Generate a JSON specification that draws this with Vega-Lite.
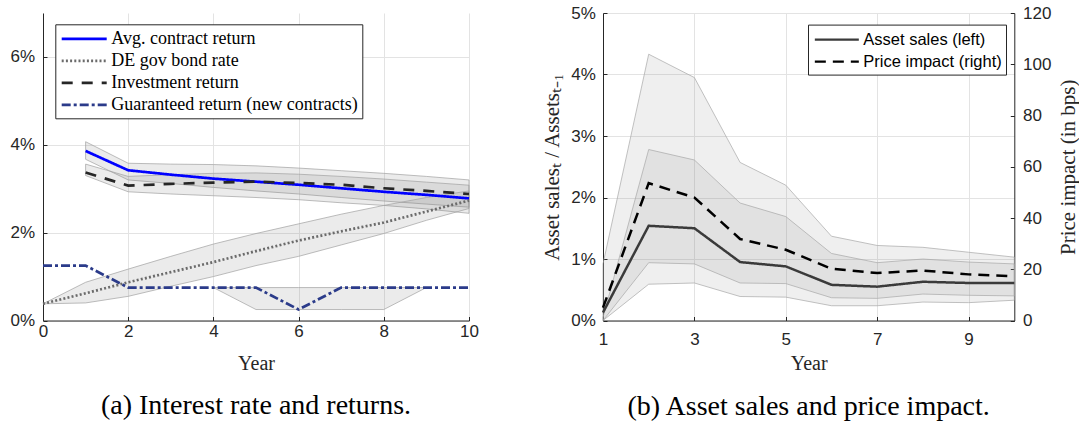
{
  "$schema": "https://vega.github.io/schema/vega-lite/v6.json",
  "background": "white",
  "padding": {"left": 10, "top": 4, "right": 0, "bottom": 0},
  "autosize": {"type": "pad"},
  "bounds": "flush",
  "spacing": 134,
  "config": {
    "view": {"stroke": null},
    "axis": {
      "tickSize": -4,
      "tickColor": "#262626",
      "domainColor": "#262626",
      "gridColor": "#e3e3e3",
      "labelFont": "Liberation Sans",
      "labelFontSize": 17,
      "labelColor": "#262626",
      "labelFlush": false,
      "labelOverlap": false,
      "titleFont": "Liberation Serif",
      "titleFontSize": 20,
      "titleFontWeight": "normal",
      "titleColor": "#262626"
    },
    "title": {"font": "Liberation Serif", "fontSize": 28, "fontWeight": "normal", "color": "#000000", "orient": "bottom", "frame": "group", "anchor": "middle", "offset": 19}
  },
  "resolve": {
    "scale": {"color": "independent", "strokeDash": "independent"},
    "legend": {"color": "independent", "strokeDash": "independent"}
  },
  "datasets": {
    "left_lines": [
      {"year": 1, "value": 3.86, "series": "Avg. contract return"},
      {"year": 2, "value": 3.42, "series": "Avg. contract return"},
      {"year": 3, "value": 3.32, "series": "Avg. contract return"},
      {"year": 4, "value": 3.23, "series": "Avg. contract return"},
      {"year": 5, "value": 3.16, "series": "Avg. contract return"},
      {"year": 6, "value": 3.09, "series": "Avg. contract return"},
      {"year": 7, "value": 3.01, "series": "Avg. contract return"},
      {"year": 8, "value": 2.93, "series": "Avg. contract return"},
      {"year": 9, "value": 2.86, "series": "Avg. contract return"},
      {"year": 10, "value": 2.78, "series": "Avg. contract return"},
      {"year": 0, "value": 0.38, "series": "DE gov bond rate"},
      {"year": 1, "value": 0.62, "series": "DE gov bond rate"},
      {"year": 2, "value": 0.87, "series": "DE gov bond rate"},
      {"year": 3, "value": 1.1, "series": "DE gov bond rate"},
      {"year": 4, "value": 1.33, "series": "DE gov bond rate"},
      {"year": 5, "value": 1.58, "series": "DE gov bond rate"},
      {"year": 6, "value": 1.82, "series": "DE gov bond rate"},
      {"year": 7, "value": 2.03, "series": "DE gov bond rate"},
      {"year": 8, "value": 2.23, "series": "DE gov bond rate"},
      {"year": 9, "value": 2.48, "series": "DE gov bond rate"},
      {"year": 10, "value": 2.73, "series": "DE gov bond rate"},
      {"year": 1, "value": 3.37, "series": "Investment return"},
      {"year": 2, "value": 3.07, "series": "Investment return"},
      {"year": 3, "value": 3.11, "series": "Investment return"},
      {"year": 4, "value": 3.14, "series": "Investment return"},
      {"year": 5, "value": 3.16, "series": "Investment return"},
      {"year": 6, "value": 3.13, "series": "Investment return"},
      {"year": 7, "value": 3.09, "series": "Investment return"},
      {"year": 8, "value": 3.01, "series": "Investment return"},
      {"year": 9, "value": 2.95, "series": "Investment return"},
      {"year": 10, "value": 2.88, "series": "Investment return"},
      {"year": 0, "value": 1.25, "series": "Guaranteed return (new contracts)"},
      {"year": 1, "value": 1.25, "series": "Guaranteed return (new contracts)"},
      {"year": 2, "value": 0.75, "series": "Guaranteed return (new contracts)"},
      {"year": 3, "value": 0.75, "series": "Guaranteed return (new contracts)"},
      {"year": 4, "value": 0.75, "series": "Guaranteed return (new contracts)"},
      {"year": 5, "value": 0.75, "series": "Guaranteed return (new contracts)"},
      {"year": 6, "value": 0.25, "series": "Guaranteed return (new contracts)"},
      {"year": 7, "value": 0.75, "series": "Guaranteed return (new contracts)"},
      {"year": 8, "value": 0.75, "series": "Guaranteed return (new contracts)"},
      {"year": 9, "value": 0.75, "series": "Guaranteed return (new contracts)"},
      {"year": 10, "value": 0.75, "series": "Guaranteed return (new contracts)"}
    ],
    "left_bands": [
      {"band": "avg", "year": 1, "lo": 3.67, "hi": 4.07},
      {"band": "avg", "year": 2, "lo": 3.2, "hi": 3.58},
      {"band": "avg", "year": 3, "lo": 3.12, "hi": 3.56},
      {"band": "avg", "year": 4, "lo": 3.03, "hi": 3.55},
      {"band": "avg", "year": 5, "lo": 2.95, "hi": 3.52},
      {"band": "avg", "year": 6, "lo": 2.88, "hi": 3.47},
      {"band": "avg", "year": 7, "lo": 2.8, "hi": 3.41},
      {"band": "avg", "year": 8, "lo": 2.72, "hi": 3.35},
      {"band": "avg", "year": 9, "lo": 2.65, "hi": 3.28},
      {"band": "avg", "year": 10, "lo": 2.58, "hi": 3.2},
      {"band": "inv", "year": 1, "lo": 3.3, "hi": 3.56},
      {"band": "inv", "year": 2, "lo": 2.93, "hi": 3.28},
      {"band": "inv", "year": 3, "lo": 2.88, "hi": 3.32},
      {"band": "inv", "year": 4, "lo": 2.84, "hi": 3.35},
      {"band": "inv", "year": 5, "lo": 2.8, "hi": 3.36},
      {"band": "inv", "year": 6, "lo": 2.75, "hi": 3.33},
      {"band": "inv", "year": 7, "lo": 2.68, "hi": 3.28},
      {"band": "inv", "year": 8, "lo": 2.62, "hi": 3.22},
      {"band": "inv", "year": 9, "lo": 2.54, "hi": 3.15},
      {"band": "inv", "year": 10, "lo": 2.44, "hi": 3.08},
      {"band": "bond", "year": 0, "lo": 0.38, "hi": 0.38},
      {"band": "bond", "year": 1, "lo": 0.4, "hi": 0.87},
      {"band": "bond", "year": 2, "lo": 0.55, "hi": 1.17},
      {"band": "bond", "year": 3, "lo": 0.78, "hi": 1.46},
      {"band": "bond", "year": 4, "lo": 1.0, "hi": 1.74},
      {"band": "bond", "year": 5, "lo": 1.25, "hi": 1.98},
      {"band": "bond", "year": 6, "lo": 1.46, "hi": 2.2},
      {"band": "bond", "year": 7, "lo": 1.72, "hi": 2.42},
      {"band": "bond", "year": 8, "lo": 1.98, "hi": 2.62},
      {"band": "bond", "year": 9, "lo": 2.28, "hi": 2.8},
      {"band": "bond", "year": 10, "lo": 2.55, "hi": 2.95},
      {"band": "guar", "year": 4, "lo": 0.75, "hi": 0.75},
      {"band": "guar", "year": 5, "lo": 0.25, "hi": 0.75},
      {"band": "guar", "year": 6, "lo": 0.25, "hi": 0.75},
      {"band": "guar", "year": 7, "lo": 0.25, "hi": 0.75},
      {"band": "guar", "year": 8, "lo": 0.25, "hi": 0.75},
      {"band": "guar", "year": 9, "lo": 0.75, "hi": 0.75}
    ],
    "right_bands": [
      {"band": "outer", "year": 1, "lo": 0, "hi": 0.92},
      {"band": "outer", "year": 2, "lo": 0.59, "hi": 4.33},
      {"band": "outer", "year": 3, "lo": 0.61, "hi": 3.95},
      {"band": "outer", "year": 4, "lo": 0.39, "hi": 2.57},
      {"band": "outer", "year": 5, "lo": 0.38, "hi": 2.2},
      {"band": "outer", "year": 6, "lo": 0.24, "hi": 1.37},
      {"band": "outer", "year": 7, "lo": 0.24, "hi": 1.22},
      {"band": "outer", "year": 8, "lo": 0.3, "hi": 1.19},
      {"band": "outer", "year": 9, "lo": 0.29, "hi": 1.11},
      {"band": "outer", "year": 10, "lo": 0.33, "hi": 1.03},
      {"band": "inner", "year": 1, "lo": 0, "hi": 0.05},
      {"band": "inner", "year": 2, "lo": 0.94, "hi": 2.78},
      {"band": "inner", "year": 3, "lo": 0.92, "hi": 2.61},
      {"band": "inner", "year": 4, "lo": 0.61, "hi": 1.91},
      {"band": "inner", "year": 5, "lo": 0.6, "hi": 1.69},
      {"band": "inner", "year": 6, "lo": 0.37, "hi": 1.09},
      {"band": "inner", "year": 7, "lo": 0.36, "hi": 0.94},
      {"band": "inner", "year": 8, "lo": 0.43, "hi": 1.0},
      {"band": "inner", "year": 9, "lo": 0.41, "hi": 0.95},
      {"band": "inner", "year": 10, "lo": 0.4, "hi": 0.92}
    ],
    "sales": [
      {"year": 1, "pct": 0.13, "series": "Asset sales (left)"},
      {"year": 2, "pct": 1.54, "series": "Asset sales (left)"},
      {"year": 3, "pct": 1.5, "series": "Asset sales (left)"},
      {"year": 4, "pct": 0.95, "series": "Asset sales (left)"},
      {"year": 5, "pct": 0.88, "series": "Asset sales (left)"},
      {"year": 6, "pct": 0.58, "series": "Asset sales (left)"},
      {"year": 7, "pct": 0.55, "series": "Asset sales (left)"},
      {"year": 8, "pct": 0.63, "series": "Asset sales (left)"},
      {"year": 9, "pct": 0.61, "series": "Asset sales (left)"},
      {"year": 10, "pct": 0.61, "series": "Asset sales (left)"}
    ],
    "impact": [
      {"year": 1, "bps": 5, "series": "Price impact (right)"},
      {"year": 2, "bps": 53.6, "series": "Price impact (right)"},
      {"year": 3, "bps": 48, "series": "Price impact (right)"},
      {"year": 4, "bps": 31.8, "series": "Price impact (right)"},
      {"year": 5, "bps": 27.6, "series": "Price impact (right)"},
      {"year": 6, "bps": 20.2, "series": "Price impact (right)"},
      {"year": 7, "bps": 18.5, "series": "Price impact (right)"},
      {"year": 8, "bps": 19.5, "series": "Price impact (right)"},
      {"year": 9, "bps": 18.0, "series": "Price impact (right)"},
      {"year": 10, "bps": 17.2, "series": "Price impact (right)"}
    ]
  },
  "hconcat": [
    {
      "width": 426,
      "height": 307.5,
      "title": {"text": "(a) Interest rate and returns."},
      "layer": [
        {
          "data": {"name": "left_bands"},
          "mark": {"type": "area", "fill": "#808080", "fillOpacity": 0.16, "stroke": "#a0a0a0", "strokeWidth": 0.7},
          "encoding": {
            "x": {"field": "year", "type": "quantitative", "scale": {"domain": [0, 10], "nice": false},
                  "axis": {"values": [0, 2, 4, 6, 8, 10], "title": "Year", "grid": true, "labelPadding": 6.5, "titlePadding": 14}},
            "y": {"field": "lo", "type": "quantitative", "scale": {"domain": [0, 7], "nice": false},
                  "axis": {"values": [0, 2, 4, 6], "labelExpr": "datum.value + '%'", "title": null, "grid": true, "labelPadding": 12.4}},
            "y2": {"field": "hi"},
            "detail": {"field": "band"}
          }
        },
        {
          "data": {"name": "left_lines"},
          "mark": {"type": "line", "strokeWidth": 2.7},
          "encoding": {
            "x": {"field": "year", "type": "quantitative"},
            "y": {"field": "value", "type": "quantitative"},
            "color": {
              "field": "series", "type": "nominal",
              "scale": {"domain": ["Avg. contract return", "DE gov bond rate", "Investment return", "Guaranteed return (new contracts)"],
                        "range": ["#0000ff", "#6b6b6b", "#262626", "#2b3b8a"]},
              "legend": {"orient": "none", "legendX": 12.3, "legendY": 11.3, "title": null, "fillColor": "white", "strokeColor": "#262626", "padding": 4, "cornerRadius": 0,
                         "symbolType": "M-0.9,0H4.1", "symbolSize": 324, "symbolStrokeWidth": 2.7, "labelOffset": 31, "rowPadding": 2,
                         "labelFont": "Liberation Serif", "labelFontSize": 18, "labelColor": "#000000", "labelLimit": 400}
            },
            "strokeDash": {
              "field": "series", "type": "nominal",
              "scale": {"domain": ["Avg. contract return", "DE gov bond rate", "Investment return", "Guaranteed return (new contracts)"],
                        "range": [[1, 0], [2, 2.2], [11, 9], [9, 3, 3, 3]]},
              "legend": {"orient": "none", "legendX": 12.3, "legendY": 11.3, "title": null, "fillColor": "white", "strokeColor": "#262626", "padding": 4, "cornerRadius": 0,
                         "symbolType": "M-0.9,0H4.1", "symbolSize": 324, "symbolStrokeWidth": 2.7, "labelOffset": 31, "rowPadding": 2,
                         "labelFont": "Liberation Serif", "labelFontSize": 18, "labelColor": "#000000", "labelLimit": 400}
            }
          }
        }
      ]
    },
    {
      "width": 411.3,
      "height": 307.5,
      "title": {"text": "(b) Asset sales and price impact."},
      "layer": [
        {
          "layer": [
            {
              "data": {"name": "right_bands"},
              "mark": {"type": "area", "fill": "#808080", "fillOpacity": 0.13, "stroke": "#a8a8a8", "strokeWidth": 0.7},
              "encoding": {
                "x": {"field": "year", "type": "quantitative", "scale": {"domain": [1, 10], "nice": false},
                      "axis": {"values": [1, 3, 5, 7, 9], "title": "Year", "grid": true, "labelPadding": 14.5, "titlePadding": 6.5}},
                "y": {"field": "lo", "type": "quantitative", "scale": {"domain": [0, 5], "nice": false},
                      "axis": {"values": [0, 1, 2, 3, 4, 5], "labelExpr": "datum.value + '%'", "title": "Asset salesₜ / Assetsₜ₋₁", "titleFontSize": 21, "grid": true, "labelPadding": 11.7, "titlePadding": 8}},
                "y2": {"field": "hi"},
                "detail": {"field": "band"}
              }
            },
            {
              "data": {"name": "sales"},
              "mark": {"type": "line", "strokeWidth": 2.5},
              "encoding": {
                "x": {"field": "year", "type": "quantitative"},
                "y": {"field": "pct", "type": "quantitative",
                      "axis": {"values": [0, 1, 2, 3, 4, 5], "labelExpr": "datum.value + '%'", "title": "Asset salesₜ / Assetsₜ₋₁", "titleFontSize": 21, "grid": true, "labelPadding": 11.7, "titlePadding": 8}},
                "color": {
                  "field": "series", "type": "nominal",
                  "scale": {"domain": ["Asset sales (left)", "Price impact (right)"], "range": ["#3a3a3a", "#000000"]},
                  "legend": {"orient": "none", "legendX": 205, "legendY": 11.6, "title": null, "fillColor": "white", "strokeColor": "#262626", "padding": 4, "cornerRadius": 0,
                             "symbolType": "M-0.86,0H3.77", "symbolSize": 361, "symbolStrokeWidth": 2.3, "labelOffset": 29.3, "rowPadding": 2,
                             "labelFont": "Liberation Sans", "labelFontSize": 16.5, "labelColor": "#000000", "labelLimit": 400}
                },
                "strokeDash": {
                  "field": "series", "type": "nominal",
                  "scale": {"domain": ["Asset sales (left)", "Price impact (right)"], "range": [[1, 0], [11, 7]]},
                  "legend": {"orient": "none", "legendX": 205, "legendY": 11.6, "title": null, "fillColor": "white", "strokeColor": "#262626", "padding": 4, "cornerRadius": 0,
                             "symbolType": "M-0.86,0H3.77", "symbolSize": 361, "symbolStrokeWidth": 2.3, "labelOffset": 29.3, "rowPadding": 2,
                             "labelFont": "Liberation Sans", "labelFontSize": 16.5, "labelColor": "#000000", "labelLimit": 400}
                }
              }
            }
          ]
        },
        {
          "data": {"name": "impact"},
          "mark": {"type": "line", "strokeWidth": 2.5},
          "encoding": {
            "x": {"field": "year", "type": "quantitative"},
            "y": {"field": "bps", "type": "quantitative", "scale": {"domain": [0, 120], "nice": false},
                  "axis": {"orient": "right", "values": [0, 20, 40, 60, 80, 100, 120], "grid": false, "title": "Price impact (in bps)", "titleFontSize": 21, "titleAngle": 270, "titleBaseline": "top", "labelPadding": 12.3, "titlePadding": 7}},
            "color": {"field": "series", "type": "nominal"},
            "strokeDash": {"field": "series", "type": "nominal"}
          }
        }
      ],
      "resolve": {"scale": {"y": "independent"}}
    }
  ]
}
